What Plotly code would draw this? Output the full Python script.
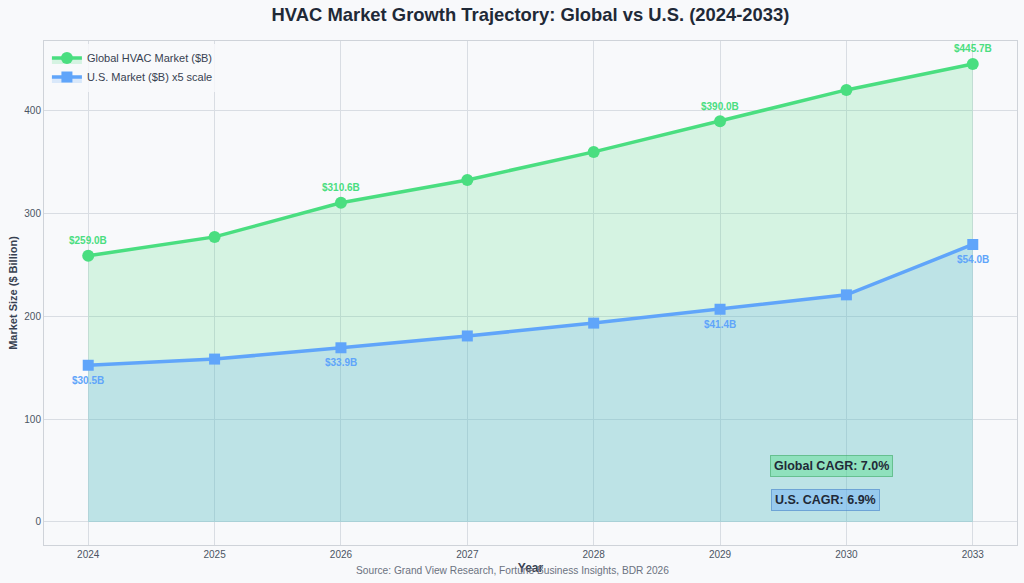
import plotly.graph_objects as go

years = ["2024", "2025", "2026", "2027", "2028", "2029", "2030", "2033"]
global_vals = [259.0, 277.4, 310.6, 332.8, 360.1, 390.0, 420.4, 445.7]
us_vals = [30.5, 31.7, 33.9, 36.2, 38.7, 41.4, 44.2, 54.0]
us_scale = 5
label_years = ["2024", "2026", "2029", "2033"]
global_cagr = "Global CAGR: 7.0%"
us_cagr = "U.S. CAGR: 6.9%"

GREEN = "#4ade80"
BLUE = "#60a5fa"
FONT = "Liberation Sans, Arial, sans-serif"

us_scaled = [v * us_scale for v in us_vals]

fig = go.Figure()
fig.add_trace(go.Scatter(
    x=years, y=global_vals, name="Global HVAC Market ($B)",
    mode="lines+markers", line=dict(color=GREEN, width=3.5),
    marker=dict(symbol="circle", size=12, color=GREEN),
    fill="tozeroy", fillcolor="rgba(74,222,128,0.2)",
))
fig.add_trace(go.Scatter(
    x=years, y=us_scaled, name="U.S. Market ($B) x5 scale",
    mode="lines+markers", line=dict(color=BLUE, width=3.5),
    marker=dict(symbol="square", size=11, color=BLUE),
    fill="tozeroy", fillcolor="rgba(96,165,250,0.2)",
))

for i, (yr, gv, uv) in enumerate(zip(years, global_vals, us_vals)):
    if yr in label_years:
        fig.add_annotation(x=i, y=gv, text=f"<b>${gv:.1f}B</b>", showarrow=False,
                           yshift=15, font=dict(size=10, color=GREEN, family=FONT))
        fig.add_annotation(x=i, y=uv * us_scale, text=f"<b>${uv:.1f}B</b>", showarrow=False,
                           yshift=-15, font=dict(size=10, color=BLUE, family=FONT))

fig.add_annotation(x=0.746, y=0.157, xref="paper", yref="paper", xanchor="left", yanchor="middle",
                   text=f"<b>{global_cagr}</b>", showarrow=False,
                   font=dict(size=12.5, color="#1f2937", family=FONT),
                   bgcolor="rgba(74,222,128,0.4)", bordercolor="rgba(60,170,100,0.6)",
                   borderwidth=1, borderpad=3)
fig.add_annotation(x=0.747, y=0.089, xref="paper", yref="paper", xanchor="left", yanchor="middle",
                   text=f"<b>{us_cagr}</b>", showarrow=False,
                   font=dict(size=12.5, color="#1f2937", family=FONT),
                   bgcolor="rgba(96,165,250,0.4)", bordercolor="rgba(70,130,200,0.6)",
                   borderwidth=1, borderpad=3)

fig.add_annotation(x=0.481, y=-0.05, xref="paper", yref="paper", xanchor="center", yanchor="middle",
                   text="Source: Grand View Research, Fortune Business Insights, BDR 2026",
                   showarrow=False, font=dict(size=10.2, color="#6b7280", family=FONT))

fig.update_layout(
    width=1024, height=583,
    margin=dict(l=44, r=7, t=41, b=38),
    paper_bgcolor="#f8f9fb", plot_bgcolor="#f8f9fb",
    font=dict(family=FONT, color="#4b5563"),
    title=dict(text="<b>HVAC Market Growth Trajectory: Global vs U.S. (2024-2033)</b>",
               x=0.5, xref="paper", xanchor="center", y=0.975, yanchor="middle",
               font=dict(size=18.4, color="#1f2937", family=FONT)),
    showlegend=True,
    legend=dict(x=0.003, y=0.995, xanchor="left", yanchor="top",
                bgcolor="rgba(248,249,251,0.8)", font=dict(size=11, color="#374151"),
                tracegroupgap=0),
    xaxis=dict(type="category", range=[-0.35, 7.35],
               showgrid=True, gridcolor="#d9dde3", gridwidth=1,
               showline=True, linecolor="#cfd3d9", mirror=True,
               ticks="", tickfont=dict(size=10, color="#4b5563"),
               title=dict(text="<b>Year</b>", font=dict(size=12, color="#374151"), standoff=4)),
    yaxis=dict(range=[-22.4, 468], tickvals=[0, 100, 200, 300, 400],
               showgrid=True, gridcolor="#d9dde3", gridwidth=1, zeroline=False,
               showline=True, linecolor="#cfd3d9", mirror=True,
               ticks="", tickfont=dict(size=10, color="#4b5563"),
               title=dict(text="<b>Market Size ($ Billion)</b>", font=dict(size=11, color="#374151"), standoff=4)),
)

fig.write_html("out.html")
